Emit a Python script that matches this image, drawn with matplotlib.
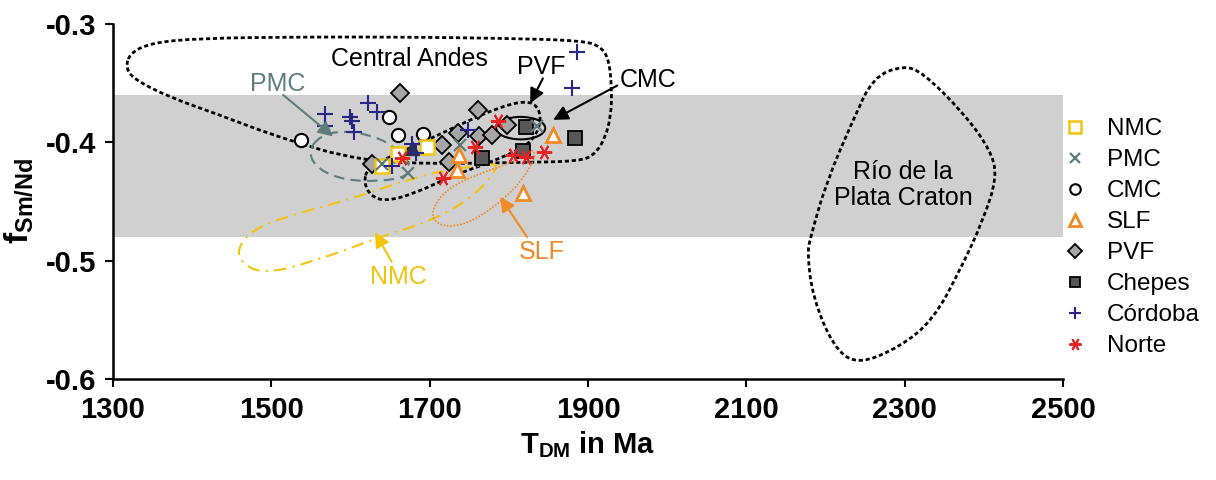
import numpy as np
import matplotlib.pyplot as plt
from matplotlib.path import Path
from matplotlib.patches import PathPatch, Ellipse

plt.rcParams['font.family'] = ['Liberation Sans', 'DejaVu Sans']
plt.rcParams['mathtext.fontset'] = 'custom'
plt.rcParams['mathtext.rm'] = 'Liberation Sans'
plt.rcParams['mathtext.bf'] = 'Liberation Sans:bold'
plt.rcParams['mathtext.it'] = 'Liberation Sans:italic'

# sample data (T_DM in Ma, f Sm/Nd)
nmc_t = [1660, 1697, 1640]
nmc_f = [-0.410, -0.404, -0.420]
pmc_t = [1640, 1673, 1738, 1836]
pmc_f = [-0.418, -0.426, -0.402, -0.386]
cmc_t = [1537, 1649, 1660, 1692]
cmc_f = [-0.398, -0.379, -0.394, -0.393]
slf_t = [1737, 1735, 1856, 1818]
slf_f = [-0.411, -0.423, -0.394, -0.443]
pvf_t = [1663, 1627, 1716, 1725, 1736, 1761, 1762, 1779, 1798]
pvf_f = [-0.358, -0.418, -0.402, -0.417, -0.392, -0.373, -0.395, -0.394, -0.385]
chepes_t = [1822, 1884, 1766, 1818]
chepes_f = [-0.387, -0.396, -0.413, -0.407]
cordoba_t = [1886, 1880, 1568, 1568, 1599, 1602, 1605, 1622, 1634, 1678, 1683, 1653, 1749]
cordoba_f = [-0.324, -0.354, -0.376, -0.386, -0.379, -0.382, -0.391, -0.367, -0.374, -0.401, -0.409, -0.420, -0.390]
norte_t = [1665, 1717, 1757, 1786, 1805, 1822, 1845]
norte_f = [-0.413, -0.430, -0.404, -0.382, -0.411, -0.412, -0.408]
other_t = [1678]
other_f = [-0.405]

# field outlines
andes_t = [1316, 1327, 1372, 1435, 1486, 1536, 1587, 1646, 1726, 1814, 1890, 1909, 1922, 1929,
           1930, 1927, 1918, 1896, 1789, 1663, 1536, 1410, 1347, 1321]
andes_f = [-0.337, -0.347, -0.362, -0.377, -0.390, -0.401, -0.411, -0.417, -0.418, -0.417, -0.416,
           -0.410, -0.396, -0.377, -0.356, -0.332, -0.320, -0.314, -0.312, -0.311, -0.311, -0.312,
           -0.316, -0.325]
pvf_field_t = [1621, 1650, 1688, 1738, 1789, 1821, 1836, 1841, 1833, 1814, 1776, 1726, 1682, 1644, 1625, 1617]
pvf_field_f = [-0.422, -0.412, -0.401, -0.385, -0.370, -0.365, -0.369, -0.381, -0.396, -0.406, -0.417,
               -0.429, -0.443, -0.450, -0.445, -0.434]
pmc_field_t = [1562, 1593, 1631, 1656, 1675, 1673, 1637, 1593, 1559, 1546]
pmc_field_f = [-0.394, -0.390, -0.395, -0.404, -0.417, -0.429, -0.433, -0.432, -0.423, -0.408]
nmc_field_t = [1785, 1738, 1688, 1596, 1511, 1469, 1454, 1486, 1553, 1637, 1704, 1755, 1783]
nmc_field_f = [-0.417, -0.422, -0.428, -0.449, -0.464, -0.477, -0.497, -0.512, -0.501, -0.480,
               -0.466, -0.446, -0.425]
slf_field_t = [1829, 1834, 1823, 1798, 1755, 1722, 1704, 1704, 1722, 1764, 1805]
slf_field_f = [-0.405, -0.411, -0.426, -0.446, -0.467, -0.472, -0.466, -0.455, -0.439, -0.426, -0.417]
rdlp_t = [2298, 2260, 2235, 2202, 2181, 2177, 2184, 2210, 2240, 2294, 2336, 2370, 2399, 2417, 2408, 2374, 2323]
rdlp_f = [-0.335, -0.345, -0.381, -0.432, -0.480, -0.494, -0.531, -0.573, -0.588, -0.573, -0.550,
          -0.508, -0.466, -0.429, -0.406, -0.375, -0.341]

gold = '#f2c40c'
orange = '#f08a24'
slate = '#5e7c7c'


def smooth_outline(xs, ys):
    pts = np.column_stack([xs, ys])
    mids = (pts + np.roll(pts, -1, axis=0)) / 2
    verts = [mids[-1]]
    codes = [Path.MOVETO]
    for i in range(len(pts)):
        verts += [pts[i], mids[i]]
        codes += [Path.CURVE3, Path.CURVE3]
    return Path(verts, codes)


fig = plt.figure(figsize=(12.16, 4.8), dpi=100)
ax = fig.add_axes([113 / 1216, 101 / 480, 950 / 1216, 355 / 480])
ax.axhspan(-0.48, -0.36, color='#d0d0d0', lw=0, zorder=0)

dots = (0, (1.5, 1.0))
ax.add_patch(PathPatch(smooth_outline(andes_t, andes_f), fill=False, ec='black', lw=2, ls=dots, zorder=2))
ax.add_patch(PathPatch(smooth_outline(pvf_field_t, pvf_field_f), fill=False, ec='black', lw=2, ls=dots, zorder=2))
ax.add_patch(PathPatch(smooth_outline(rdlp_t, rdlp_f), fill=False, ec='black', lw=2, ls=dots, zorder=2))
ax.add_patch(PathPatch(smooth_outline(pmc_field_t, pmc_field_f), fill=False, ec=slate, lw=1.5, ls=(0, (5, 3)), zorder=2))
ax.add_patch(PathPatch(smooth_outline(nmc_field_t, nmc_field_f), fill=False, ec=gold, lw=1.5, ls=(0, (6, 3, 1, 3)), zorder=2))
ax.add_patch(PathPatch(smooth_outline(slf_field_t, slf_field_f), fill=False, ec=orange, lw=1.2, ls=(0, (1, 1)), zorder=2))
ax.add_patch(Ellipse((1815, -0.388), 62, 0.019, fill=False, ec='black', lw=1.5, zorder=2))

ax.plot(pvf_t, pvf_f, 'D', ms=9, mfc='#a6a6a6', mec='black', mew=1.3, ls='none', label='PVF', zorder=3)
ax.plot(chepes_t, chepes_f, 's', ms=9.5, mfc='#585858', mec='black', mew=1.3, ls='none', label='Chepes', zorder=3)
ax.plot(cmc_t, cmc_f, 'o', ms=9.5, mfc='white', mec='black', mew=1.5, ls='none', label='CMC', zorder=3)
ax.plot(nmc_t, nmc_f, 's', ms=10, mfc='white', mec=gold, mew=1.8, ls='none', label='NMC', zorder=3)
ax.plot(slf_t, slf_f, '^', ms=10, mfc='white', mec=orange, mew=2, ls='none', label='SLF', zorder=3)
ax.plot(other_t, other_f, '^', ms=10, color='#333333', ls='none', zorder=3)
ax.plot(pmc_t, pmc_f, 'x', ms=9, color=slate, mew=1.6, ls='none', label='PMC', zorder=4)
ax.plot(cordoba_t, cordoba_f, '+', ms=11, color='#262686', mew=1.5, ls='none', label='Córdoba', zorder=4)
ax.plot(norte_t, norte_f, marker=(6, 2, 90), ms=11, color='#e62222', mew=1.4, ls='none', label='Norte', zorder=4)

arrow = dict(arrowstyle='-|>', mutation_scale=22, lw=1.5, shrinkA=0, shrinkB=0)
ax.annotate('', xy=(1827, -0.367), xytext=(1843, -0.346), arrowprops=dict(arrow, color='black'), zorder=5)
ax.annotate('', xy=(1856, -0.381), xytext=(1937, -0.352), arrowprops=dict(arrow, color='black'), zorder=5)
ax.annotate('', xy=(1578, -0.395), xytext=(1515, -0.360), arrowprops=dict(arrow, color=slate), zorder=5)
ax.annotate('', xy=(1631, -0.476), xytext=(1652, -0.501), arrowprops=dict(arrow, color=gold), zorder=5)
ax.annotate('', xy=(1789, -0.446), xytext=(1823, -0.480), arrowprops=dict(arrow, color=orange), zorder=5)

ax.text(1675, -0.330, 'Central Andes', fontsize=18, ha='center', va='center')
ax.text(1841, -0.336, 'PVF', fontsize=18, ha='center', va='center')
ax.text(1976, -0.347, 'CMC', fontsize=18, ha='center', va='center')
ax.text(1508, -0.351, 'PMC', fontsize=18, ha='center', va='center', color=slate)
ax.text(1660, -0.514, 'NMC', fontsize=18, ha='center', va='center', color=gold)
ax.text(1842, -0.493, 'SLF', fontsize=18, ha='center', va='center', color=orange)
ax.text(2298, -0.436, 'Río de la\nPlata Craton', fontsize=18, ha='center', va='center', linespacing=1.15)

ax.set_xlim(1300, 2500)
ax.set_ylim(-0.6, -0.3)
ax.set_xticks([1300, 1500, 1700, 1900, 2100, 2300, 2500])
ax.set_yticks([-0.6, -0.5, -0.4, -0.3])
ax.set_yticklabels(['-0.6', '-0.5', '-0.4', '-0.3'])
for s in ['top', 'right']:
    ax.spines[s].set_visible(False)
for s in ['left', 'bottom']:
    ax.spines[s].set_linewidth(1.8)
ax.tick_params(direction='out', length=6, width=1.5, labelsize=21, pad=6)
for lab in ax.get_xticklabels() + ax.get_yticklabels():
    lab.set_fontweight('bold')
ax.set_xlabel(r'$\mathbf{T}_{\mathbf{DM}}$ in Ma', fontsize=21, fontweight='bold', labelpad=4)
ax.set_ylabel(r'$\mathbf{f}_{\mathbf{Sm/Nd}}$', fontsize=24, fontweight='bold', labelpad=8)

h, l = ax.get_legend_handles_labels()
order = ['NMC', 'PMC', 'CMC', 'SLF', 'PVF', 'Chepes', 'Córdoba', 'Norte']
hs = [h[l.index(o)] for o in order]
fig.legend(hs, order, loc='upper left', bbox_to_anchor=(1063 / 1216, 1 - 118 / 480), frameon=False,
           fontsize=17.5, markerscale=0.8, handlelength=1.0, handletextpad=0.8,
           labelspacing=0.37, borderpad=0, borderaxespad=0)

fig.savefig('out.png', dpi=100)
